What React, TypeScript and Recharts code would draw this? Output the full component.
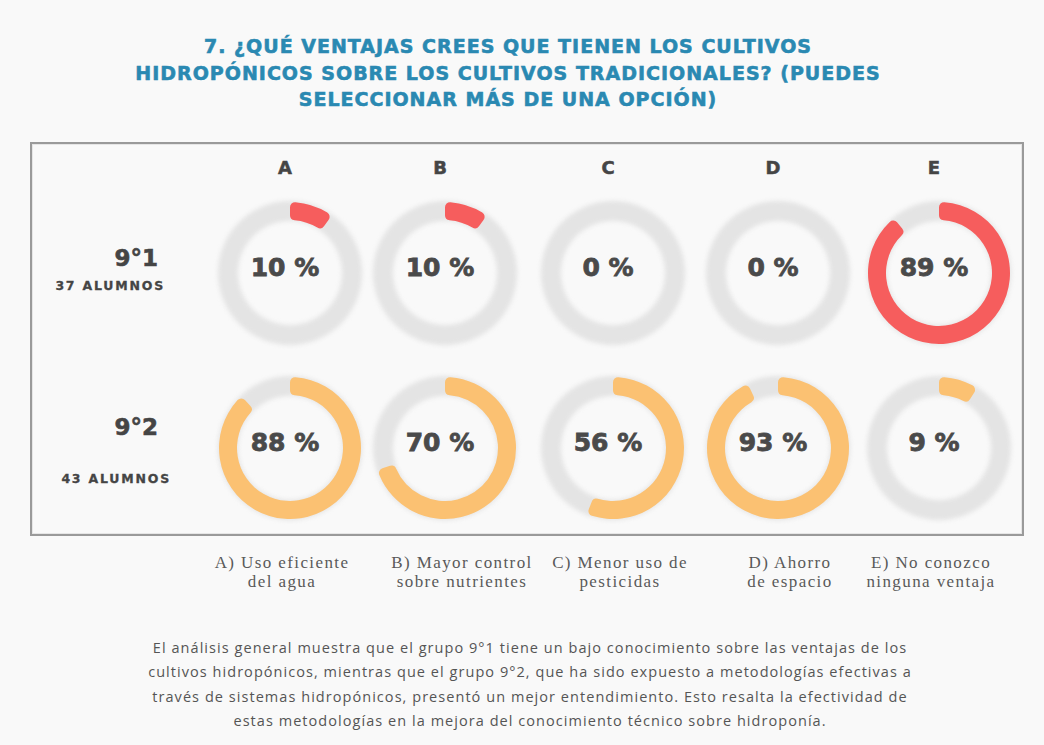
import { PieChart, Pie, Cell } from 'recharts';

const options = ['A', 'B', 'C', 'D', 'E'];
const optionTexts = [
  ['A) Uso eficiente', 'del agua'],
  ['B) Mayor control', 'sobre nutrientes'],
  ['C) Menor uso de', 'pesticidas'],
  ['D) Ahorro', 'de espacio'],
  ['E) No conozco', 'ninguna ventaja'],
];
const groups = ['9°1', '9°2'];
const groupSizes = ['37 ALUMNOS', '43 ALUMNOS'];
const group1 = [10, 10, 0, 0, 89];
const group2 = [88, 70, 56, 93, 9];

const title = [
  '7. ¿QUÉ VENTAJAS CREES QUE TIENEN LOS CULTIVOS',
  'HIDROPÓNICOS SOBRE LOS CULTIVOS TRADICIONALES? (PUEDES',
  'SELECCIONAR MÁS DE UNA OPCIÓN)',
];
const summary = [
  'El análisis general muestra que el grupo 9°1 tiene un bajo conocimiento sobre las ventajas de los',
  'cultivos hidropónicos, mientras que el grupo 9°2, que ha sido expuesto a metodologías efectivas a',
  'través de sistemas hidropónicos, presentó un mejor entendimiento. Esto resalta la efectividad de',
  'estas metodologías en la mejora del conocimiento técnico sobre hidroponía.',
];

// layout
const colX = [285, 440, 608, 773, 934];
const rowY = [268, 443];
const rowColors = ['#f65d5d', '#fbc172'];
const labelX = [282, 462, 620, 790, 931];
const R_OUT = 71;
const R_IN = 53;

const rows = [group1, group2];
const BOLD = '"DejaVu Sans", sans-serif';

export default function App() {
  return (
    <div
      style={{
        position: 'absolute',
        left: 0,
        top: 0,
        width: 1044,
        height: 745,
        background: '#f9f9f9',
        overflow: 'hidden',
        fontFamily: '"Open Sans", sans-serif',
        color: '#454545',
      }}
    >
      <style>{`.track-pie .recharts-sector { filter: blur(2.2px); }`}</style>

      <div
        style={{
          position: 'absolute',
          top: 33,
          left: 0,
          width: 1016,
          textAlign: 'center',
          color: '#2a89b2',
          fontFamily: BOLD,
          fontWeight: 700,
          fontSize: 19,
          lineHeight: '26.5px',
          letterSpacing: 1,
          WebkitTextStroke: '0.6px #2a89b2',
        }}
      >
        {title.map((t) => (
          <div key={t}>{t}</div>
        ))}
      </div>

      <div
        style={{
          position: 'absolute',
          left: 30,
          top: 142,
          width: 990,
          height: 390,
          border: '2px solid #9a9a9a',
          boxShadow: 'inset 0 0 0 1px #e6e6e6',
        }}
      />

      {options.map((o, i) => (
        <div
          key={o}
          style={{
            position: 'absolute',
            left: colX[i] - 20,
            width: 40,
            top: 157,
            textAlign: 'center',
            fontFamily: BOLD,
            fontWeight: 700,
            fontSize: 18,
            WebkitTextStroke: '0.5px #454545',
          }}
        >
          {o}
        </div>
      ))}

      {groups.map((g, r) => (
        <div key={g}>
          <div
            style={{
              position: 'absolute',
              right: 1044 - 158,
              top: r === 0 ? 245 : 414,
              fontFamily: BOLD,
              fontWeight: 700,
              fontSize: 23,
              WebkitTextStroke: '0.6px #454545',
            }}
          >
            {g}
          </div>
          <div
            style={{
              position: 'absolute',
              right: r === 0 ? 1044 - 165 : 1044 - 171,
              top: r === 0 ? 278 : 471,
              fontFamily: BOLD,
              fontWeight: 700,
              fontSize: 12.5,
              letterSpacing: 1.8,
              WebkitTextStroke: '0.3px #454545',
            }}
          >
            {groupSizes[r]}
          </div>
        </div>
      ))}

      <div style={{ position: 'absolute', left: 0, top: 0 }}>
        <PieChart width={1044} height={745}>
          {rows.map((vals, r) =>
            vals.map((v, i) => (
              <Pie
                key={`t-${r}-${i}`}
                className="track-pie"
                data={[{ name: 'all', value: 100 }]}
                dataKey="value"
                cx={colX[i]}
                cy={rowY[r]}
                innerRadius={R_IN - 1}
                outerRadius={R_OUT + 1}
                startAngle={90}
                endAngle={-270}
                stroke="none"
                fill="#e4e4e4"
                isAnimationActive={false}
              />
            ))
          )}
          {rows.map((vals, r) =>
            vals.map((v, i) => (
              <Pie
                key={`v-${r}-${i}`}
                data={[
                  { name: 'si', value: v },
                  { name: 'no', value: 100 - v },
                ]}
                dataKey="value"
                cx={colX[i]}
                cy={rowY[r]}
                innerRadius={R_IN}
                outerRadius={R_OUT}
                startAngle={90}
                endAngle={-270}
                cornerRadius={5}
                stroke="none"
                isAnimationActive={false}
              >
                <Cell fill={rowColors[r]} />
                <Cell fill="transparent" />
              </Pie>
            ))
          )}
        </PieChart>
      </div>

      {rows.map((vals, r) =>
        vals.map((v, i) => (
          <div
            key={`p-${r}-${i}`}
            style={{
              position: 'absolute',
              left: colX[i] - 60,
              width: 120,
              top: rowY[r] - 18,
              lineHeight: '36px',
              textAlign: 'center',
              fontFamily: BOLD,
              fontWeight: 700,
              fontSize: 25,
              color: '#4a4a4a',
              WebkitTextStroke: '0.8px #4a4a4a',
            }}
          >
            {`${v} %`}
          </div>
        ))
      )}

      {optionTexts.map((lines, i) => (
        <div
          key={i}
          style={{
            position: 'absolute',
            left: labelX[i] - 100,
            width: 200,
            top: 553,
            textAlign: 'center',
            fontFamily: '"Liberation Serif", serif',
            fontSize: 17,
            lineHeight: '19px',
            color: '#5a5a5a',
            letterSpacing: 1.4,
          }}
        >
          {lines.map((l) => (
            <div key={l}>{l}</div>
          ))}
        </div>
      ))}

      <div
        style={{
          position: 'absolute',
          left: 0,
          width: 1060,
          top: 636,
          textAlign: 'center',
          fontSize: 14.5,
          lineHeight: '24.3px',
          letterSpacing: 1.05,
          color: '#555',
          fontWeight: 400,
        }}
      >
        {summary.map((l) => (
          <div key={l}>{l}</div>
        ))}
      </div>
    </div>
  );
}
